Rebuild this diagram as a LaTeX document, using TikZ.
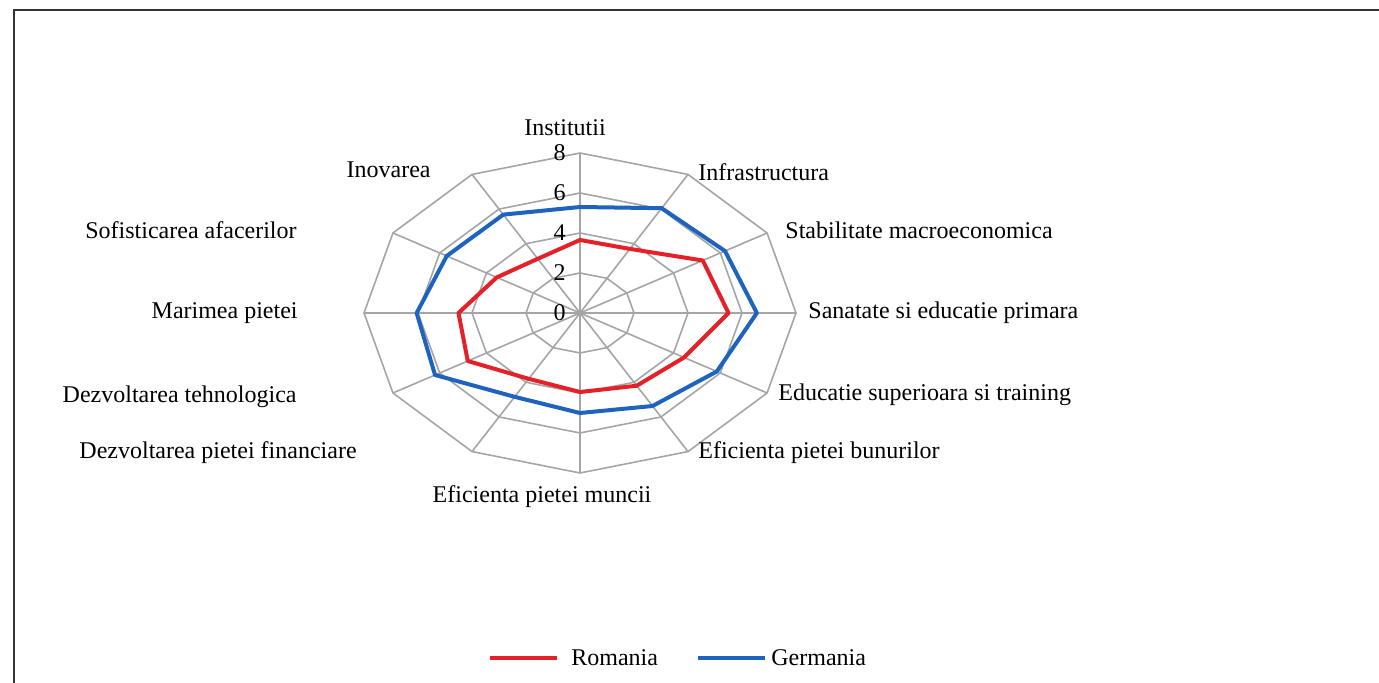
\documentclass[tikz,border=0pt]{standalone}
\usepackage{fontspec}
\setmainfont{Liberation Serif}
\usetikzlibrary{positioning}

\definecolor{romaniared}{RGB}{228,32,40}
\definecolor{germaniablue}{RGB}{30,100,190}
\definecolor{gridgray}{RGB}{165,165,165}

\tikzset{
    grid line/.style={draw=gridgray, line width=0.8pt},
    romania/.style={draw=romaniared, line width=2pt, line join=round},
    germania/.style={draw=germaniablue, line width=2pt, line join=round},
    axis label/.style={font=\fontsize{12}{14}\selectfont, inner sep=0pt}
}

\begin{document}
\begin{tikzpicture}[x=0.5pt, y=-0.5pt]
    \useasboundingbox (0,0) rectangle (1379,683);
    % Frame of the chart area
    \draw[line width=1pt, black!80] (14,683) -- (14,10) -- (1379,10);

    \begin{scope}[shift={(580,313)}, x=13.5pt, y=10pt]
        \coordinate (O) at (0,0);
        % Spokes
        \draw[grid line] (90:8) -- (270:8);
        \draw[grid line] (60:8) -- (240:8);
        \draw[grid line] (30:8) -- (210:8);
        \draw[grid line] (0:8) -- (180:8);
        \draw[grid line] (-30:8) -- (150:8);
        \draw[grid line] (-60:8) -- (120:8);

        % Rings
        \draw[grid line] (90:2) -- (60:2) -- (30:2) -- (0:2) -- (-30:2) -- (-60:2) -- (-90:2) -- (-120:2) -- (-150:2) -- (180:2) -- (150:2) -- (120:2) -- cycle;
        \draw[grid line] (90:4) -- (60:4) -- (30:4) -- (0:4) -- (-30:4) -- (-60:4) -- (-90:4) -- (-120:4) -- (-150:4) -- (180:4) -- (150:4) -- (120:4) -- cycle;
        \draw[grid line] (90:6) -- (60:6) -- (30:6) -- (0:6) -- (-30:6) -- (-60:6) -- (-90:6) -- (-120:6) -- (-150:6) -- (180:6) -- (150:6) -- (120:6) -- cycle;
        \draw[grid line] (90:8) -- (60:8) -- (30:8) -- (0:8) -- (-30:8) -- (-60:8) -- (-90:8) -- (-120:8) -- (-150:8) -- (180:8) -- (150:8) -- (120:8) -- cycle;

        % Scale values
        \node[axis label, anchor=east, xshift=-7pt] (tick0) at (90:0) {0};
        \node[axis label, anchor=east, xshift=-7pt] (tick2) at (90:2) {2};
        \node[axis label, anchor=east, xshift=-7pt] (tick4) at (90:4) {4};
        \node[axis label, anchor=east, xshift=-7pt] (tick6) at (90:6) {6};
        \node[axis label, anchor=east, xshift=-7pt] (tick8) at (90:8) {8};

        % The two series
        \draw[germania] (90:5.3) -- (60:6.05) -- (30:6.2) -- (0:6.55) -- (-30:5.85) -- (-60:5.37) -- (-90:5.0) -- (-120:4.84) -- (-150:6.2) -- (180:6.05) -- (150:5.7) -- (120:5.68) -- cycle;
        \draw[romania] (90:3.65) -- (60:3.7) -- (30:5.25) -- (0:5.5) -- (-30:4.45) -- (-60:4.2) -- (-90:3.95) -- (-120:3.8) -- (-150:4.8) -- (180:4.5) -- (150:3.56) -- (120:3.13) -- cycle;
    \end{scope}

    % Category labels
    \node[axis label] (institutii) at (565,128) {Institutii};
    \node[axis label, anchor=west] (infra) at (698,172) {Infrastructura};
    \node[axis label, anchor=west] (stabil) at (785,230) {Stabilitate macroeconomica};
    \node[axis label, anchor=west] (sanatate) at (808,313) {Sanatate si educatie primara};
    \node[axis label, anchor=west] (educatie) at (778,395) {Educatie superioara si training};
    \node[axis label, anchor=west] (bunuri) at (698,453) {Eficienta pietei bunurilor};
    \node[axis label] (munca) at (542,497) {Eficienta pietei muncii};
    \node[axis label, anchor=east] (financiar) at (357,453) {Dezvoltarea pietei financiare};
    \node[axis label, anchor=east] (tehno) at (297,397) {Dezvoltarea tehnologica};
    \node[axis label, anchor=east] (marime) at (298,313) {Marimea pietei};
    \node[axis label, anchor=east] (sofist) at (297,230) {Sofisticarea afacerilor};
    \node[axis label, anchor=east] (inovare) at (431,170) {Inovarea};

    % Legend
    \coordinate (roA) at (490,658);
    \coordinate (roB) at (557,658);
    \draw[romania] (roA) -- (roB);
    \node[axis label, right=7pt of roB] (romaniakey) {Romania};
    \coordinate (deA) at (698,658);
    \coordinate (deB) at (765,658);
    \draw[germania] (deA) -- (deB);
    \node[axis label, right=3pt of deB] (germaniakey) {Germania};
\end{tikzpicture}
\end{document}
